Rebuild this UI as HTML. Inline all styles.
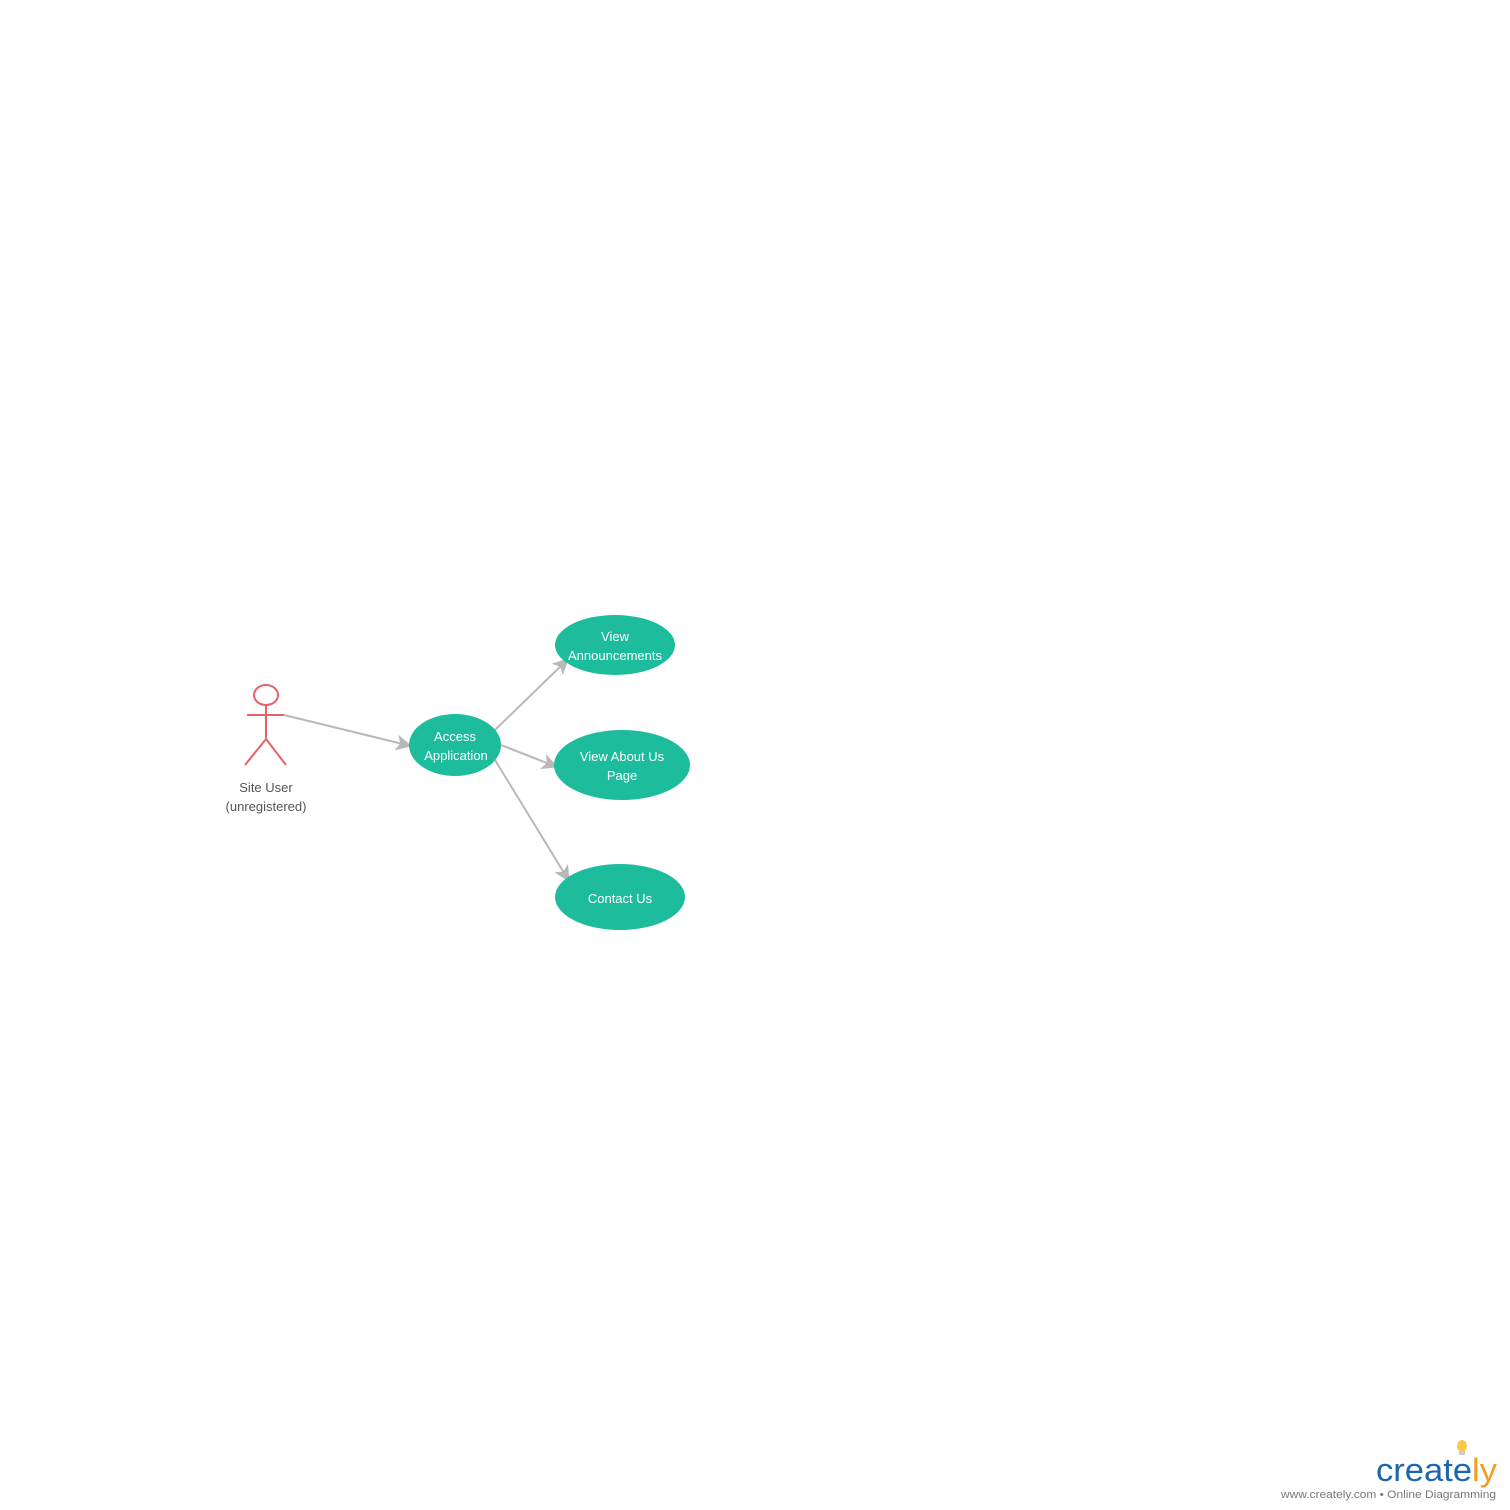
<!DOCTYPE html>
<html><head><meta charset="utf-8"><style>
html,body{margin:0;padding:0;background:#fff}
svg{display:block}
text{font-family:"Liberation Sans",sans-serif}
</style></head><body>
<svg width="1510" height="1510" viewBox="0 0 1510 1510">
<defs>
<marker id="ah" markerWidth="16" markerHeight="16" refX="15" refY="8" orient="auto" markerUnits="userSpaceOnUse">
<path d="M0,0 L16,8 L0,16 L4,8 Z" fill="#b8b8b8"/>
</marker>
</defs>
<g stroke="#e8606a" stroke-width="2" fill="none">
<ellipse cx="266" cy="695" rx="12" ry="10"/>
<line x1="266" y1="705" x2="266" y2="739"/>
<line x1="247" y1="715" x2="284" y2="715"/>
<line x1="266" y1="739" x2="245" y2="765"/>
<line x1="266" y1="739" x2="286" y2="765"/>
</g>
<text x="266" y="792" font-size="13" fill="#555" text-anchor="middle"><tspan x="266">Site User</tspan><tspan x="266" dy="19">(unregistered)</tspan></text>
<g stroke="#b8b8b8" stroke-width="2" fill="none">
<line x1="284" y1="715" x2="411" y2="746" marker-end="url(#ah)"/>
<line x1="495" y1="730" x2="568" y2="659" marker-end="url(#ah)"/>
<line x1="501" y1="745" x2="557" y2="767" marker-end="url(#ah)"/>
<line x1="495" y1="760" x2="569" y2="881" marker-end="url(#ah)"/>
</g>
<g fill="#1dbc9c">
<ellipse cx="455" cy="745" rx="46" ry="31"/>
<ellipse cx="615" cy="645" rx="60" ry="30"/>
<ellipse cx="622" cy="765" rx="68" ry="35"/>
<ellipse cx="620" cy="897" rx="65" ry="33"/>
</g>
<g fill="#fff" font-size="13" text-anchor="middle">
<text x="455" y="741"><tspan x="455">Access</tspan><tspan x="456" dy="19">Application</tspan></text>
<text x="615" y="641"><tspan x="615">View</tspan><tspan x="615" dy="19">Announcements</tspan></text>
<text x="622" y="761"><tspan x="622">View About Us</tspan><tspan x="622" dy="19">Page</tspan></text>
<text x="620" y="903">Contact Us</text>
</g>
<g>
<ellipse cx="1462" cy="1446" rx="5" ry="6" fill="#f7c948"/>
<rect x="1459" y="1451" width="6" height="4" fill="#ccc"/>
<text x="1376" y="1481" font-size="32" fill="#1a66b0" textLength="121" lengthAdjust="spacingAndGlyphs">create<tspan fill="#f39c1f">ly</tspan></text>
<text x="1281" y="1498" font-size="11" fill="#777" textLength="215" lengthAdjust="spacingAndGlyphs">www.creately.com • Online Diagramming</text>
</g>
</svg>
</body></html>
